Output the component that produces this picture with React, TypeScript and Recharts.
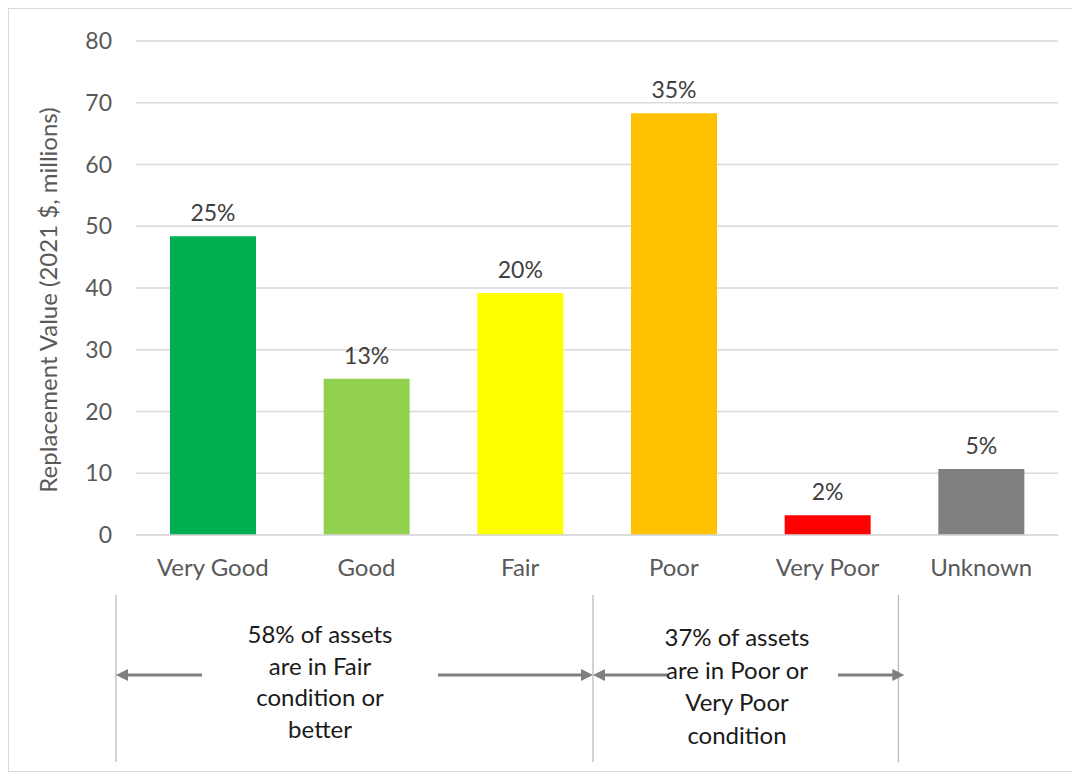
import React from 'react';
import { BarChart, Bar, XAxis, YAxis, CartesianGrid, Cell, LabelList } from 'recharts';

const categories = ['Very Good', 'Good', 'Fair', 'Poor', 'Very Poor', 'Unknown'];
const values = [48.4, 25.3, 39.2, 68.3, 3.2, 10.7];
const shares = ['25%', '13%', '20%', '35%', '2%', '5%'];
const barColors = ['#00B050', '#92D050', '#FFFF00', '#FFC000', '#FF0000', '#808080'];
const yTicks = [0, 10, 20, 30, 40, 50, 60, 70, 80];

const data = categories.map((name, i) => ({ name, value: values[i], share: shares[i] }));

const FONT = 'Lato, "Open Sans", sans-serif';
const W = 1070;
const H = 762;

// plot geometry in chart coords
const PLOT_LEFT = 127;
const PLOT_RIGHT = 1049;
const band = (PLOT_RIGHT - PLOT_LEFT) / categories.length;

const Arrow = ({ x1, x2, y }: { x1: number; x2: number; y: number }) => {
  const dir = x2 > x1 ? 1 : -1;
  return (
    <g>
      <line x1={x1} y1={y} x2={x2 - dir * 10} y2={y} stroke="#7f7f7f" strokeWidth={3} />
      <polygon
        points={`${x2},${y} ${x2 - dir * 12},${y - 6} ${x2 - dir * 12},${y + 6}`}
        fill="#7f7f7f"
      />
    </g>
  );
};

const Notes = () => {
  const xa = PLOT_LEFT - 20;
  const xb = PLOT_LEFT + band * 3 - 4;
  const xc = PLOT_LEFT + band * 5 - 6;
  const ay = 666;
  const t1 = ['58% of assets', 'are in Fair', 'condition or', 'better'];
  const t2 = ['37% of assets', 'are in Poor or', 'Very Poor', 'condition'];
  return (
    <svg width={W} height={H} style={{ position: 'absolute', left: 0, top: 0 }}>
      {[xa, xb, xc].map((x, i) => (
        <line key={i} x1={x} y1={586} x2={x} y2={753} stroke="#a6a6a6" strokeWidth={1} />
      ))}
      <Arrow x1={193} x2={xa} y={ay} />
      <Arrow x1={429} x2={xb} y={ay} />
      <Arrow x1={658} x2={xb} y={ay} />
      <Arrow x1={829} x2={xc + 6} y={ay} />
      <text x={311} y={634} textAnchor="middle" fontFamily={FONT} fontSize={24} fill="#1a1a1a">
        {t1.map((s, i) => (
          <tspan key={i} x={311} dy={i === 0 ? 0 : 31.7}>{s}</tspan>
        ))}
      </text>
      <text x={728} y={637} textAnchor="middle" fontFamily={FONT} fontSize={24} fill="#1a1a1a">
        {t2.map((s, i) => (
          <tspan key={i} x={728} dy={i === 0 ? 0 : 32.7}>{s}</tspan>
        ))}
      </text>
    </svg>
  );
};

export default function App() {
  return (
    <div
      style={{
        position: 'relative',
        width: W,
        height: H,
        border: '1px solid #d9d9d9',
        background: '#fff',
        fontFamily: FONT,
      }}
    >
      <BarChart
        width={W}
        height={580}
        data={data}
        margin={{ top: 32, right: W - PLOT_RIGHT, left: 0, bottom: 10 }}
        barCategoryGap="22%"
      >
        <CartesianGrid vertical={false} stroke="#d9d9d9" strokeWidth={1.5} />
        <XAxis
          dataKey="name"
          height={44}
          axisLine={{ stroke: '#d9d9d9', strokeWidth: 1.5 }}
          tickLine={false}
          tickSize={0}
          tickMargin={24}
          tick={{ fill: '#595959', fontSize: 24, fontFamily: FONT }}
          interval={0}
        />
        <YAxis
          width={PLOT_LEFT}
          domain={[0, 80]}
          ticks={yTicks}
          axisLine={false}
          tickLine={false}
          tickSize={0}
          tickMargin={24}
          tick={{ fill: '#595959', fontSize: 23, fontFamily: FONT }}
          label={{
            content: ({ viewBox }: any) => {
              const cx = 38;
              const cy = viewBox.y + viewBox.height / 2 + 12;
              return (
                <text
                  x={cx}
                  y={cy}
                  transform={`rotate(-90, ${cx}, ${cy})`}
                  textAnchor="middle"
                  dominantBaseline="central"
                  fill="#595959"
                  fontSize={24}
                  fontFamily={FONT}
                >
                  Replacement Value (2021 $, millions)
                </text>
              );
            },
          }}
        />
        <Bar dataKey="value" barSize={86} isAnimationActive={false}>
          {data.map((d, i) => (
            <Cell key={d.name} fill={barColors[i]} />
          ))}
          <LabelList
            dataKey="share"
            position="top"
            offset={15}
            fill="#404040"
            fontSize={23}
            fontFamily={FONT}
          />
        </Bar>
      </BarChart>
      <Notes />
    </div>
  );
}
